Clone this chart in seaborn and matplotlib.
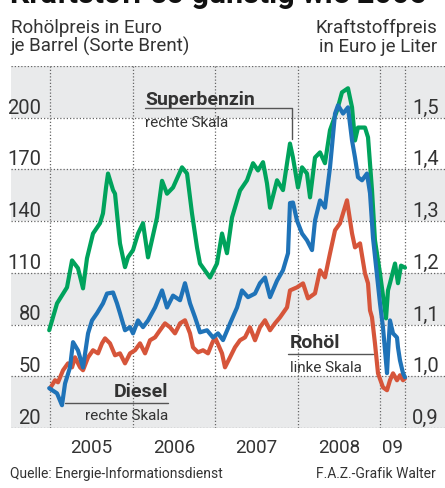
import matplotlib
matplotlib.use("Agg")
import matplotlib.pyplot as plt
import seaborn as sns
import pandas as pd

# Werte (Zeit als Dezimaljahr)
super_jahr = [2004.99, 2005.085, 2005.206, 2005.267, 2005.339, 2005.400, 2005.448, 2005.521,
              2005.606, 2005.642, 2005.679, 2005.703, 2005.764, 2005.788, 2005.848, 2005.909,
              2005.945, 2006.006, 2006.067, 2006.127, 2006.188, 2006.297, 2006.358, 2006.418,
              2006.491, 2006.600, 2006.661, 2006.721, 2006.782, 2006.818, 2006.939, 2007.024,
              2007.085, 2007.145, 2007.206, 2007.303, 2007.388, 2007.461, 2007.521, 2007.582,
              2007.630, 2007.667, 2007.752, 2007.824, 2007.909, 2007.945, 2008.006, 2008.055,
              2008.115, 2008.152, 2008.212, 2008.273, 2008.333, 2008.394, 2008.479, 2008.539,
              2008.612, 2008.661, 2008.697, 2008.733, 2008.818, 2008.855, 2008.903, 2008.939,
              2009.000, 2009.061, 2009.073, 2009.097, 2009.121, 2009.182, 2009.218, 2009.255,
              2009.303]
super_preis = [1.089, 1.141, 1.172, 1.224, 1.209, 1.170, 1.228, 1.276,
               1.296, 1.315, 1.365, 1.392, 1.360, 1.353, 1.257, 1.211,
               1.230, 1.244, 1.276, 1.296, 1.230, 1.307, 1.378, 1.353,
               1.365, 1.404, 1.392, 1.315, 1.249, 1.218, 1.191, 1.218,
               1.276, 1.238, 1.307, 1.359, 1.379, 1.412, 1.398, 1.414,
               1.373, 1.326, 1.379, 1.360, 1.450, 1.423, 1.365, 1.404,
               1.392, 1.346, 1.423, 1.433, 1.412, 1.476, 1.514, 1.549,
               1.557, 1.520, 1.456, 1.481, 1.481, 1.462, 1.360, 1.263,
               1.199, 1.127, 1.112, 1.166, 1.180, 1.218, 1.180, 1.214,
               1.210]

diesel_jahr = [2004.99, 2005.085, 2005.145, 2005.182, 2005.242, 2005.279, 2005.339, 2005.400,
               2005.461, 2005.509, 2005.570, 2005.642, 2005.691, 2005.764, 2005.812, 2005.848,
               2005.909, 2005.970, 2006.006, 2006.067, 2006.127, 2006.188, 2006.273, 2006.358,
               2006.418, 2006.491, 2006.576, 2006.636, 2006.697, 2006.758, 2006.818, 2006.903,
               2006.976, 2007.036, 2007.097, 2007.182, 2007.267, 2007.327, 2007.400, 2007.485,
               2007.545, 2007.606, 2007.667, 2007.752, 2007.824, 2007.885, 2007.909, 2007.945,
               2007.994, 2008.055, 2008.115, 2008.176, 2008.212, 2008.273, 2008.333, 2008.394,
               2008.455, 2008.491, 2008.552, 2008.612, 2008.661, 2008.697, 2008.733, 2008.782,
               2008.842, 2008.879, 2008.915, 2009.000, 2009.036, 2009.085, 2009.097, 2009.121,
               2009.158, 2009.206, 2009.218, 2009.242, 2009.279, 2009.303]
diesel_preis = [0.977, 0.967, 0.944, 0.986, 1.017, 1.066, 1.050, 1.017,
                1.083, 1.108, 1.122, 1.141, 1.160, 1.162, 1.141, 1.122,
                1.089, 1.095, 1.083, 1.108, 1.095, 1.108, 1.133, 1.166,
                1.133, 1.156, 1.147, 1.180, 1.141, 1.114, 1.085, 1.089,
                1.075, 1.083, 1.070, 1.102, 1.133, 1.166, 1.153, 1.160,
                1.180, 1.191, 1.153, 1.185, 1.205, 1.238, 1.335, 1.336,
                1.301, 1.276, 1.263, 1.244, 1.301, 1.340, 1.326, 1.404,
                1.508, 1.524, 1.508, 1.520, 1.456, 1.423, 1.385, 1.379,
                1.392, 1.354, 1.268, 1.141, 1.095, 1.006, 1.044, 1.108,
                1.083, 1.075, 1.056, 1.031, 1.006, 0.998]

oel_jahr = [2005.0, 2005.061, 2005.097, 2005.158, 2005.218, 2005.267, 2005.303, 2005.364,
            2005.400, 2005.461, 2005.521, 2005.582, 2005.630, 2005.667, 2005.727, 2005.788,
            2005.848, 2005.909, 2005.970, 2006.030, 2006.091, 2006.152, 2006.212, 2006.273,
            2006.333, 2006.394, 2006.455, 2006.515, 2006.576, 2006.636, 2006.697, 2006.733,
            2006.794, 2006.855, 2006.915, 2006.964, 2007.0, 2007.085, 2007.121, 2007.182,
            2007.242, 2007.303, 2007.364, 2007.424, 2007.485, 2007.545, 2007.606, 2007.667,
            2007.727, 2007.788, 2007.873, 2007.909, 2007.994, 2008.067, 2008.127, 2008.212,
            2008.273, 2008.333, 2008.394, 2008.455, 2008.515, 2008.552, 2008.600, 2008.661,
            2008.697, 2008.758, 2008.818, 2008.855, 2008.879, 2008.903, 2008.939, 2008.976,
            2009.036, 2009.085, 2009.121, 2009.158, 2009.206, 2009.242, 2009.279, 2009.303]
oel_preis = [43.0, 47.7, 46.5, 53.5, 57.5, 55.2, 61.0, 55.2,
             53.5, 61.0, 65.1, 63.3, 69.1, 72.0, 69.1, 62.2,
             63.3, 57.5, 63.3, 65.1, 69.1, 63.3, 70.9, 72.6,
             76.7, 80.7, 78.4, 74.9, 80.7, 82.5, 74.9, 66.8,
             63.9, 65.1, 63.3, 69.1, 72.6, 63.3, 55.2, 61.0,
             66.8, 70.9, 72.6, 78.4, 70.9, 78.4, 82.5, 76.7,
             80.7, 84.2, 90.0, 99.8, 101.6, 103.9, 95.2, 98.1,
             111.5, 107.4, 121.3, 134.7, 138.7, 144.5, 152.1, 132.9,
             124.8, 127.1, 109.7, 103.9, 88.2, 84.2, 69.1, 51.7,
             43.6, 41.9, 47.7, 51.7, 47.7, 50.6, 47.7, 48.8]

links_ticks = [20, 50, 80, 110, 140, 170, 200]
rechts_ticks = ["0,9", "1,0", "1,1", "1,2", "1,3", "1,4", "1,5"]
jahre = [2005, 2006, 2007, 2008, 2009]
jahr_labels = ["2005", "2006", "2007", "2008", "09"]

GRUEN = "#00a35c"
BLAU = "#1f73b8"
ROT = "#d6553a"
GRAU = "#e9eaeb"
TEXT = "#333333"

sns.set_style("white")
plt.rcParams["font.family"] = ["Roboto", "DejaVu Sans"]

fig = plt.figure(figsize=(4.45, 4.88), dpi=100)
ax = fig.add_axes([11 / 445, 60 / 488, 434 / 445, 362 / 488])
ax2 = ax.twinx()

ende = diesel_jahr[-1]
ax.set_xlim(2004.527, 2009.788)
ax.set_ylim(20, 230)
ax2.set_ylim(0.9, 1.6)

for a in (ax, ax2):
    for s in a.spines.values():
        s.set_visible(False)
    a.set_xticks([])
    a.set_yticks([])

# graue Baender und gepunktete Hilfslinien
for unten in [20, 80, 140, 200]:
    ax.axhspan(unten, unten + 30, color=GRAU, lw=0, zorder=0)
for y in links_ticks + [230]:
    ax.axhline(y, color="#666666", lw=0.9, ls=(0, (1, 1.6)), zorder=1)
for x in jahre + [ende]:
    ax.axvline(x, color="#666666", lw=0.9, ls=(0, (1, 1.6)), zorder=1)

# Kurven
sns.lineplot(x=super_jahr, y=super_preis, ax=ax2, color=GRUEN, lw=3.0, zorder=3)
sns.lineplot(x=oel_jahr, y=oel_preis, ax=ax, color=ROT, lw=3.0, zorder=3)
sns.lineplot(x=diesel_jahr, y=diesel_preis, ax=ax2, color=BLAU, lw=3.0, zorder=4)
ax2.set_xlim(2004.527, 2009.788)

# Achsenbeschriftungen als Text
ytr = ax.get_yaxis_transform()
for v, lab in zip(links_ticks, rechts_ticks):
    ax.text((41 - 11) / 434, v + 2.4, str(v), transform=ytr, ha="right", va="baseline",
            fontsize=14.5, color=TEXT)
    ax.text((412 - 11) / 434, v + 2.4, lab, transform=ytr, ha="left", va="baseline",
            fontsize=14.5, color=TEXT)

xtr = ax.get_xaxis_transform()
grenzen = jahre + [ende]
for i, lab in enumerate(jahr_labels):
    mitte = (grenzen[i] + grenzen[i + 1]) / 2
    ax.text(mitte, -25 / 362, lab, transform=xtr, ha="center", va="baseline",
            fontsize=13.5, color=TEXT)

# Legenden-Beschriftung direkt an den Kurven
ax.text(2006.152, 207.5, "Superbenzin", ha="left", va="baseline", fontsize=14,
        fontweight="bold", color=TEXT, zorder=5)
ax.plot([2006.152, 2007.933, 2007.933], [205.4, 205.4, 187.5], color="#555555", lw=1, zorder=5)
ax.text(2006.152, 194.5, "rechte Skala", ha="left", va="baseline", fontsize=11,
        color=TEXT, zorder=5)

ax.text(2007.909, 66.3, "Rohöl", ha="left", va="baseline", fontsize=14,
        fontweight="bold", color=TEXT, zorder=5)
ax.plot([2007.885, 2008.92], [62.8, 62.8], color="#555555", lw=1, zorder=5)
ax.text(2007.909, 52.5, "linke Skala", ha="left", va="baseline", fontsize=11,
        color=TEXT, zorder=5)

ax.text(2006.43, 38.0, "Diesel", ha="right", va="baseline", fontsize=14,
        fontweight="bold", color=TEXT, zorder=5)
ax.plot([2005.182, 2006.43], [34.3, 34.3], color="#555555", lw=1, zorder=5)
ax.text(2006.43, 24.5, "rechte Skala", ha="right", va="baseline", fontsize=11,
        color=TEXT, zorder=5)

# Kopf und Fuss
fig.text(10 / 445, 1 - 3 / 488, "Kraftstoff so günstig wie 2005", ha="left", va="baseline",
         fontsize=22, fontweight="bold", color="#111111")
fig.text(11 / 445, 1 - 33 / 488, "Rohölpreis in Euro", ha="left", va="baseline",
         fontsize=13.5, color=TEXT)
fig.text(11 / 445, 1 - 52 / 488, "je Barrel (Sorte Brent)", ha="left", va="baseline",
         fontsize=13.5, color=TEXT)
fig.text(437 / 445, 1 - 33 / 488, "Kraftstoffpreis", ha="right", va="baseline",
         fontsize=13.5, color=TEXT)
fig.text(437 / 445, 1 - 52 / 488, "in Euro je Liter", ha="right", va="baseline",
         fontsize=13.5, color=TEXT)
fig.text(10 / 445, 1 - 478 / 488, "Quelle: Energie-Informationsdienst", ha="left",
         va="baseline", fontsize=10, color=TEXT)
fig.text(436 / 445, 1 - 478 / 488, "F.A.Z.-Grafik Walter", ha="right",
         va="baseline", fontsize=10, color=TEXT)

fig.savefig("out.png", dpi=100, facecolor="white")
